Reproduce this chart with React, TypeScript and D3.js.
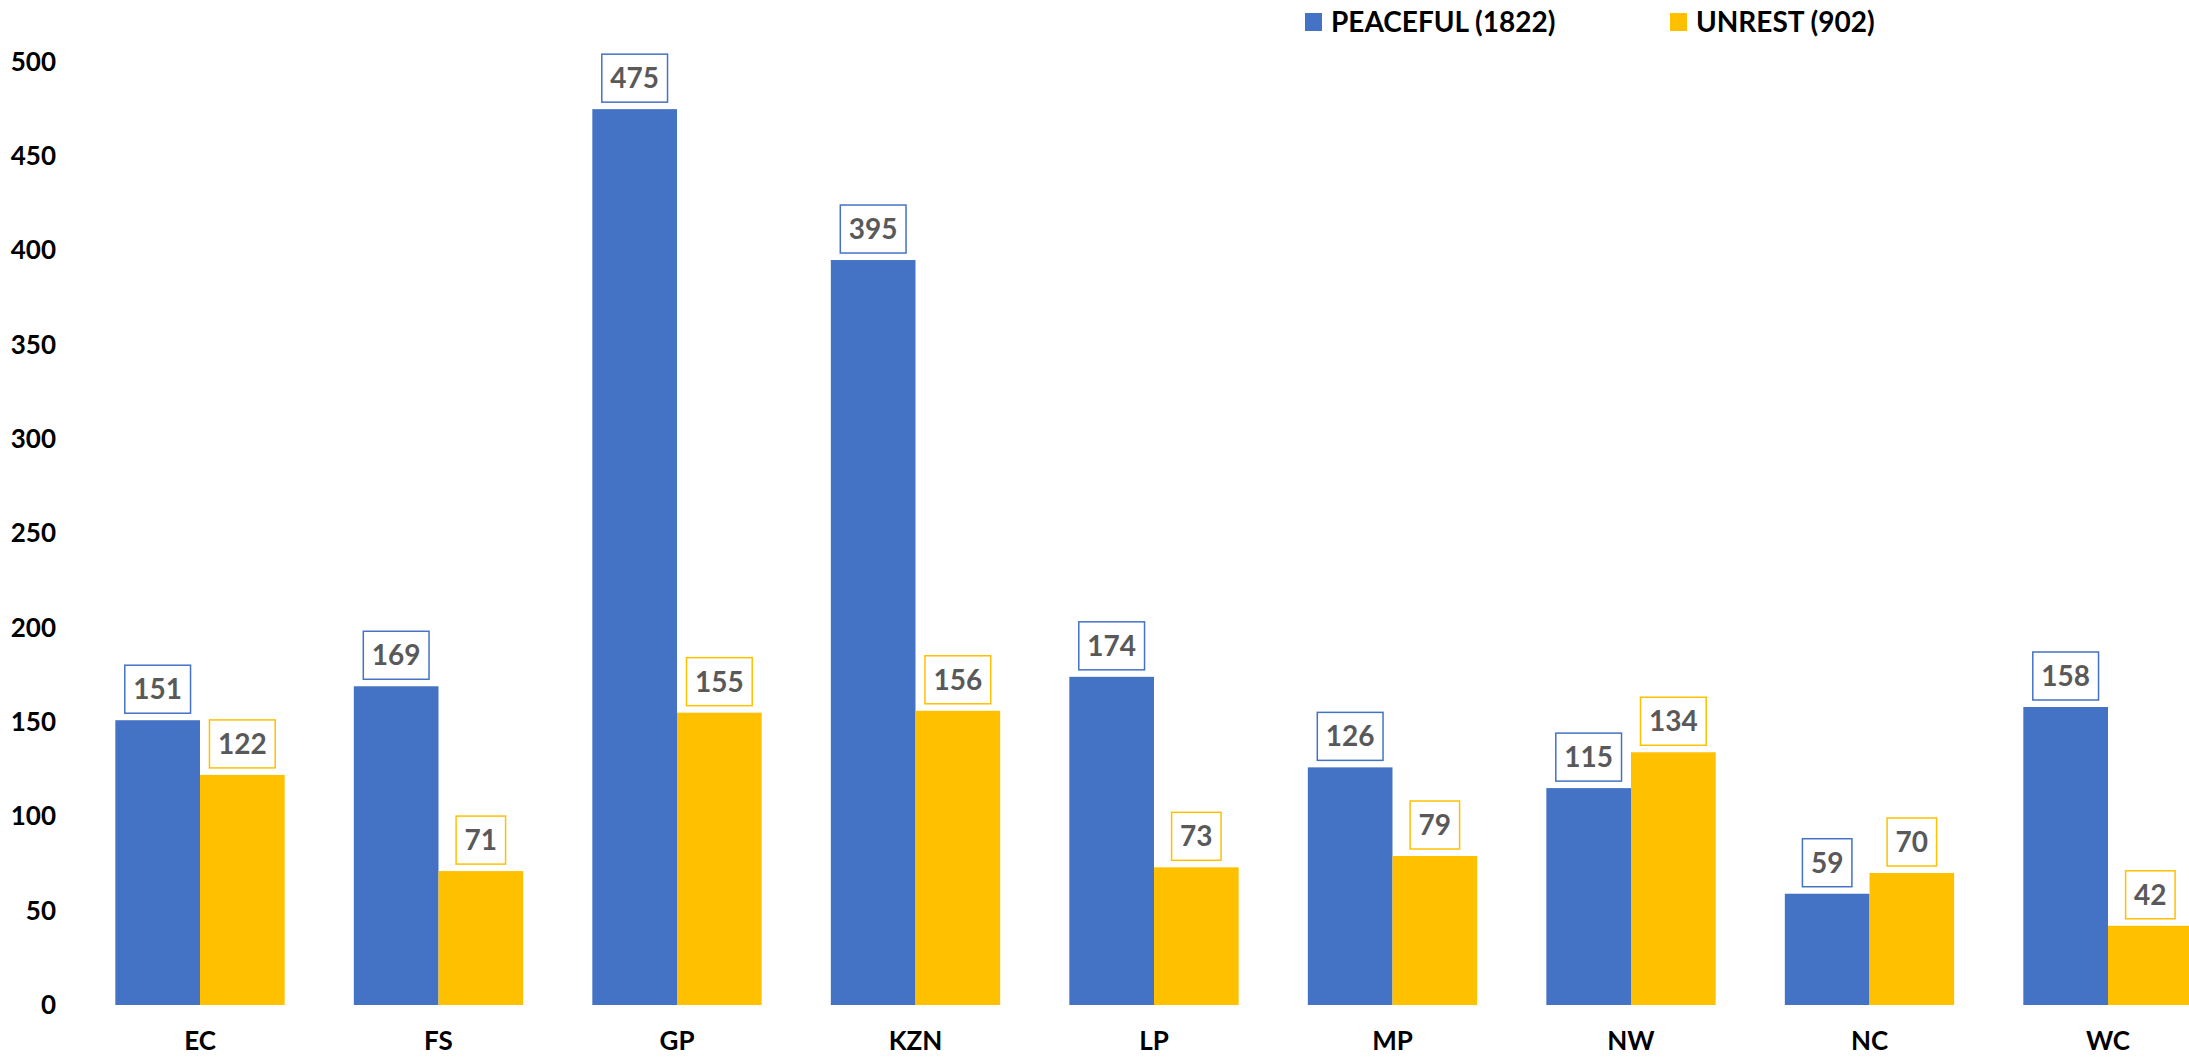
import React, { useEffect, useRef } from 'react';
import * as d3 from 'd3';

const provinces = ['EC', 'FS', 'GP', 'KZN', 'LP', 'MP', 'NW', 'NC', 'WC'];
const peaceful = [151, 169, 475, 395, 174, 126, 115, 59, 158];
const unrest = [122, 71, 155, 156, 73, 79, 134, 70, 42];
const seriesNames = ['PEACEFUL (1822)', 'UNREST (902)'];
const yTicks = [0, 50, 100, 150, 200, 250, 300, 350, 400, 450, 500];

const W = 2189;
const H = 1057;
const BLUE = '#4472C4';
const GOLD = '#FFC000';
const FONT = 'Lato, "Open Sans", sans-serif';

const App: React.FC = () => {
  const svgRef = useRef<SVGSVGElement | null>(null);

  useEffect(() => {
    if (!svgRef.current) return;
    const svg = d3.select(svgRef.current);
    svg.selectAll('*').remove();

    const x = d3
      .scaleBand<string>()
      .domain(provinces)
      .range([80.75, 2227.25])
      .paddingInner(0.29)
      .paddingOuter(0.145);
    const xs = d3.scaleBand<string>().domain(['p', 'u']).range([0, x.bandwidth()]);
    const y = d3.scaleLinear().domain([0, 500]).range([1005, 62]);

    const series = [
      { key: 'p', values: peaceful, color: BLUE },
      { key: 'u', values: unrest, color: GOLD },
    ];

    // bars
    series.forEach((s) => {
      svg
        .append('g')
        .selectAll('rect')
        .data(s.values)
        .enter()
        .append('rect')
        .attr('x', (_, i) => x(provinces[i])! + xs(s.key)!)
        .attr('y', (d) => y(d))
        .attr('width', xs.bandwidth())
        .attr('height', (d) => y(0) - y(d))
        .attr('fill', s.color);
    });

    // boxed value labels
    series.forEach((s) => {
      s.values.forEach((v, i) => {
        const cx = x(provinces[i])! + xs(s.key)! + xs.bandwidth() / 2;
        const g = svg.append('g');
        const box = g.append('rect');
        const t = g
          .append('text')
          .attr('x', cx)
          .attr('y', y(v) - 21)
          .attr('text-anchor', 'middle')
          .attr('font-family', FONT)
          .attr('font-weight', 'bold')
          .attr('font-size', 28)
          .attr('fill', '#595959')
          .text(String(v));
        const tw = (t.node() as SVGTextElement).getComputedTextLength();
        const bw = tw + 17;
        box
          .attr('x', cx - bw / 2)
          .attr('y', y(v) - 55)
          .attr('width', bw)
          .attr('height', 48)
          .attr('fill', '#fff')
          .attr('stroke', s.color)
          .attr('stroke-width', 1.5);
      });
    });

    // y axis
    const yAxis = svg
      .append('g')
      .attr('transform', 'translate(56,0)')
      .call(d3.axisLeft(y).tickValues(yTicks).tickSize(0).tickPadding(0));
    yAxis.select('.domain').remove();
    yAxis
      .selectAll('text')
      .attr('font-family', FONT)
      .attr('font-weight', 'bold')
      .attr('font-size', 26)
      .attr('fill', '#000');

    // x axis
    const xAxis = svg
      .append('g')
      .attr('transform', `translate(0,${y(0)})`)
      .call(d3.axisBottom(x).tickSize(0).tickPadding(27));
    xAxis.select('.domain').remove();
    xAxis
      .selectAll('text')
      .attr('font-family', FONT)
      .attr('font-weight', 'bold')
      .attr('font-size', 26)
      .attr('fill', '#000');

    // legend
    const legendX = [1305, 1670];
    seriesNames.forEach((name, i) => {
      const lg = svg.append('g').attr('transform', `translate(${legendX[i]},0)`);
      lg.append('rect')
        .attr('x', 0)
        .attr('y', 13)
        .attr('width', 17)
        .attr('height', 18)
        .attr('fill', series[i].color);
      lg.append('text')
        .attr('x', 26)
        .attr('y', 32)
        .attr('font-family', FONT)
        .attr('font-weight', 'bold')
        .attr('font-size', 28)
        .attr('fill', '#000')
        .text(name);
    });
  }, []);

  return (
    <svg
      ref={svgRef}
      width={W}
      height={H}
      style={{ position: 'absolute', left: 0, top: 0, background: '#fff' }}
    ></svg>
  );
};

export default App;
